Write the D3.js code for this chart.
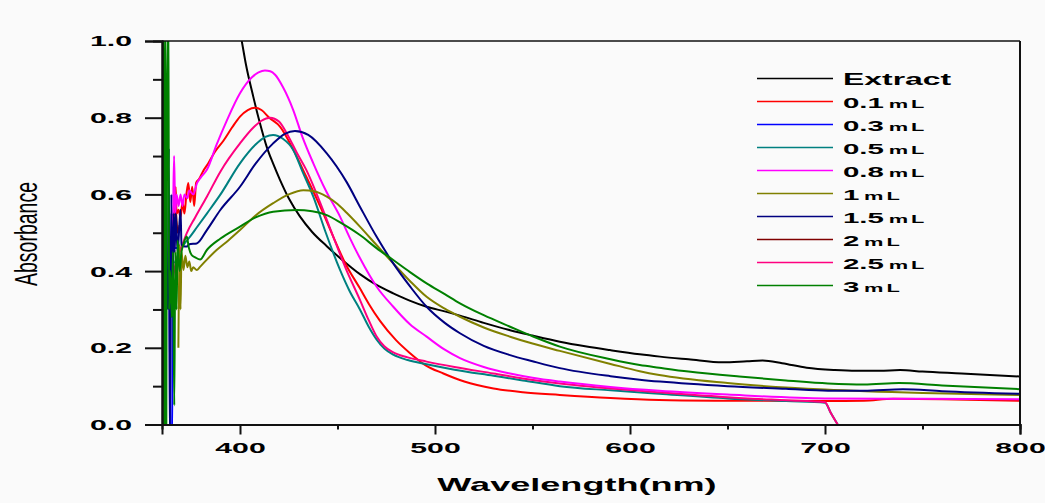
<!DOCTYPE html>
<html>
<head>
<meta charset="utf-8">
<script src="https://cdn.jsdelivr.net/npm/d3@7"></script>
<style>
  html, body { margin: 0; padding: 0; background: #fafafa; }
  svg { display: block; }
  text { font-family: "Liberation Sans", Arial, sans-serif; fill: #000; }
</style>
</head>
<body>
<svg id="chart" width="1045" height="503"></svg>
<script>
// ---------------- DATA ----------------
const seriesNames = ["Extract", "0.1", "0.3", "0.5", "0.8", "1", "1.5", "2", "2.5", "3"];
const seriesColors = ["#000000", "#ff0000", "#0000ff", "#008080", "#ff00ff", "#808000", "#000080", "#800000", "#ff0080", "#008000"];

const xMajorTicks = [400, 500, 600, 700, 800];
const xMinorTicks = [450, 550, 650, 750];
const yMajorTicks = [0.0, 0.2, 0.4, 0.6, 0.8, 1.0];
const yMinorTicks = [0.1, 0.3, 0.5, 0.7, 0.9];

const extract = [[398,1.08],[400.9,1.0],[403,0.94],[406.8,0.855],[410,0.79],[413.7,0.724],[417,0.68],[420.5,0.638],[425,0.59],[430.8,0.542],[437,0.502],[444.5,0.465],[452,0.431],[461.5,0.392],[470,0.364],[478.6,0.342],[487,0.323],[495.7,0.307],[505,0.295],[512.8,0.284],[525,0.265],[538.5,0.246],[550,0.232],[564,0.216],[577,0.204],[589.7,0.194],[605,0.183],[615.4,0.177],[630,0.17],[647.7,0.162],[660,0.165],[668,0.167],[678,0.16],[690.6,0.148],[705,0.142],[716,0.14],[728,0.14],[738.5,0.142],[750,0.138],[770,0.133],[800,0.125]];

const ml01 = [[365,0.4],[365.7,0.55],[366.3,0.45],[367,0.62],[367.5,0.55],[368.5,0.56],[369.5,0.54],[370.5,0.58],[371.5,0.55],[372.5,0.6],[373.5,0.63],[374.5,0.58],[375.5,0.62],[376.5,0.57],[377.5,0.63],[379,0.64],[381,0.66],[383.6,0.68],[387,0.71],[391.5,0.74],[396,0.775],[400,0.803],[404,0.82],[407.7,0.826],[411,0.82],[415,0.8],[420.5,0.777],[427,0.72],[434,0.646],[441,0.57],[447.8,0.49],[454,0.42],[461.5,0.355],[466,0.315],[471.8,0.27],[480,0.22],[487.2,0.186],[495,0.155],[504.3,0.133],[515,0.112],[530,0.094],[545,0.084],[564,0.077],[590,0.069],[615,0.064],[650,0.062],[700,0.061],[720,0.062],[735,0.067],[760,0.066],[800,0.062]];

const ml03 = [[363.8,0.55],[364.3,-0.05],[365.2,-0.05],[365.6,0.5],[366.5,0.46],[368,0.46]];

const ml05 = [[366.5,0.42],[368,0.44],[370,0.46],[372,0.475],[374.4,0.49],[378,0.515],[383,0.55],[390,0.6],[400,0.681],[408,0.73],[413,0.75],[417,0.755],[422,0.745],[427.3,0.716],[432,0.66],[437.6,0.594],[444,0.5],[451.3,0.403],[456,0.35],[461.5,0.3],[466,0.255],[470,0.222],[474,0.198],[478.6,0.182],[486,0.168],[495.7,0.157],[510,0.143],[530,0.127],[545,0.115],[564,0.1],[590,0.089],[615,0.08],[650,0.068],[680,0.061],[700,0.057],[703,0.03],[706.5,0.0]];

const ml08 = [[365.5,0.4],[366.2,0.7],[366.8,0.55],[367.5,0.6],[368.5,0.57],[369.5,0.6],[370.5,0.57],[371.5,0.6],[373,0.59],[374,0.61],[376,0.6],[378,0.63],[380,0.645],[383,0.664],[388,0.73],[393,0.79],[400,0.864],[406,0.905],[409.5,0.918],[412.8,0.923],[415.5,0.921],[418,0.912],[422,0.88],[427.3,0.82],[432,0.75],[437.6,0.681],[444,0.61],[451.3,0.542],[456,0.49],[461.5,0.434],[470,0.36],[478.6,0.307],[487,0.262],[495.7,0.229],[505,0.195],[512.8,0.173],[525,0.15],[538.5,0.133],[550,0.122],[564,0.112],[590,0.098],[615,0.088],[650,0.078],[700,0.068],[750,0.067],[800,0.066]];

const ml1 = [[368.4,0.2],[369,0.47],[369.5,0.3],[370,0.45],[371,0.403],[372,0.44],[373,0.41],[374,0.425],[375,0.4],[376,0.41],[377.8,0.403],[379.5,0.411],[383,0.43],[388,0.455],[394,0.48],[400,0.507],[408,0.545],[417,0.577],[425,0.6],[432.5,0.611],[438,0.608],[444.5,0.594],[450,0.575],[454.7,0.552],[461.5,0.516],[470,0.468],[478.6,0.42],[487,0.375],[495.7,0.333],[505,0.302],[512.8,0.281],[525,0.253],[538.5,0.229],[550,0.211],[564,0.192],[590,0.158],[605,0.139],[615,0.129],[650,0.108],[700,0.091],[750,0.082],[800,0.077]];

const ml15 = [[363,0.3],[363.5,0.72],[364,-0.05],[364.8,0.6],[365.3,0.28],[366,0.55],[366.5,0.45],[367,0.55],[368,0.45],[369.5,0.56],[370,0.47],[371,0.465],[372.7,0.464],[374,0.47],[377.8,0.472],[383,0.507],[390,0.56],[400,0.62],[408,0.68],[417,0.733],[423,0.758],[428.2,0.765],[435,0.755],[444.5,0.707],[454.7,0.632],[461.5,0.568],[470,0.49],[478.6,0.42],[487.2,0.36],[495.7,0.307],[505,0.265],[512.8,0.238],[525,0.205],[538.5,0.181],[550,0.165],[564,0.147],[590,0.126],[605,0.117],[615.4,0.112],[650,0.1],[680,0.093],[701.5,0.088],[720,0.088],[740,0.092],[760,0.087],[800,0.08]];

const ml2 = [[365,0.42],[366,0.5],[367,0.56],[368,0.5],[369,0.52]];

const ml25 = [[364,0.35],[365.5,0.38],[367,0.42],[369,0.45],[370.5,0.47],[372.7,0.499],[377,0.54],[383,0.594],[390,0.66],[400,0.733],[407,0.775],[411,0.792],[415.4,0.8],[420,0.79],[424,0.759],[429,0.71],[434,0.664],[441,0.58],[447.8,0.49],[454,0.41],[461.5,0.325],[466,0.272],[470,0.23],[474,0.204],[478.6,0.188],[486,0.175],[495.7,0.164],[510,0.15],[530,0.133],[545,0.12],[564,0.107],[590,0.094],[615,0.084],[650,0.071],[680,0.063],[700,0.058],[703,0.03],[706.5,0.0]];

const ml3 = [[360,1.1],[360.4,-0.05],[360.9,1.1],[361.3,-0.05],[361.8,1.1],[362.2,-0.05],[362.4,0.6],[363.3,1.1],[363.6,0.3],[364.2,0.4],[365,0.28],[365.6,0.45],[366.3,0.05],[366.8,0.45],[367.5,0.3],[368,0.48],[369,0.4],[370,0.45],[371,0.47],[372.7,0.49],[373.8,0.46],[375.2,0.442],[377,0.436],[379.5,0.43],[383,0.455],[390,0.485],[400,0.516],[408,0.54],[417,0.555],[429,0.559],[437,0.556],[444.5,0.546],[452,0.525],[461.5,0.494],[470,0.46],[478.6,0.429],[487,0.398],[495.7,0.368],[505,0.34],[512.8,0.316],[525,0.285],[538.5,0.255],[550,0.23],[564,0.203],[590,0.17],[605,0.155],[615,0.148],[630,0.138],[656,0.125],[680,0.115],[701.5,0.107],[720,0.104],[738,0.108],[760,0.102],[800,0.092]];

const seriesData = [extract, ml01, ml03, ml05, ml08, ml1, ml15, ml2, ml25, ml3];
const drawOrder = [7, 2, 0, 1, 3, 8, 4, 5, 6, 9];

// ---------------- CHART ----------------
const svg = d3.select("#chart");
const L = 162, R = 1020, T = 41, B = 424.5;
const SX = 1.95;

const x = d3.scaleLinear().domain([360, 800]).range([L, R]);
const y = d3.scaleLinear().domain([0, 1]).range([B, T]);

svg.append("rect").attr("width", 1045).attr("height", 503).attr("fill", "#fafafa");

svg.append("defs").append("clipPath").attr("id", "clip")
  .append("rect").attr("x", L).attr("y", T).attr("width", R - L).attr("height", B - T);

const line = d3.line().curve(d3.curveMonotoneX).x(d => x(d[0])).y(d => y(d[1]));
const plot = svg.append("g").attr("clip-path", "url(#clip)");
drawOrder.forEach(i => {
  plot.append("path").datum(seriesData[i])
    .attr("fill", "none").attr("stroke", seriesColors[i])
    .attr("stroke-width", 2).attr("stroke-linejoin", "round")
    .attr("d", line);
});

// frame lines (top, right)
svg.append("line").attr("x1", L).attr("x2", R).attr("y1", T).attr("y2", T)
  .attr("stroke", "#111").attr("stroke-width", 1.6);
svg.append("line").attr("x1", R).attr("x2", R).attr("y1", T).attr("y2", B)
  .attr("stroke", "#111").attr("stroke-width", 2);

// x axis
const gxMinor = svg.append("g").attr("transform", `translate(0,${B})`)
  .call(d3.axisBottom(x).tickValues(xMinorTicks).tickSize(5).tickFormat(""));
const gx = svg.append("g").attr("transform", `translate(0,${B})`)
  .call(d3.axisBottom(x).tickValues(xMajorTicks).tickSize(10).tickPadding(8).tickFormat(d3.format("d")));
[gx, gxMinor].forEach(g => {
  g.select(".domain").attr("stroke", "#111").attr("stroke-width", 2);
  g.selectAll(".tick line").attr("stroke", "#111").attr("stroke-width", 2);
});
gx.selectAll(".tick text")
  .attr("font-size", 15.5).attr("font-weight", "bold")
  .attr("font-family", "'Liberation Sans', Arial, sans-serif")
  .attr("fill", "#000")
  .attr("transform", `scale(${SX},1)`);

// y axis
const gyMinor = svg.append("g").attr("transform", `translate(${L},0)`)
  .call(d3.axisLeft(y).tickValues(yMinorTicks).tickSize(9).tickFormat(""));
const gy = svg.append("g").attr("transform", `translate(${L},0)`)
  .call(d3.axisLeft(y).tickValues(yMajorTicks).tickSize(17).tickFormat(d3.format(".1f")));
[gy, gyMinor].forEach(g => {
  g.select(".domain").attr("stroke", "#111").attr("stroke-width", 2);
  g.selectAll(".tick line").attr("stroke", "#111").attr("stroke-width", 2);
});
gy.selectAll(".tick text")
  .attr("font-size", 15.5).attr("font-weight", "bold")
  .attr("font-family", "'Liberation Sans', Arial, sans-serif")
  .attr("fill", "#000")
  .attr("x", -30 / SX)
  .attr("transform", `scale(${SX},1)`);

// axis titles
svg.append("text")
  .attr("transform", `translate(${(L + R) / 2 - 14},491) scale(1.9,1)`)
  .attr("text-anchor", "middle").attr("font-size", 19).attr("font-weight", "bold")
  .text("Wavelength(nm)");
svg.append("text")
  .attr("transform", `translate(37,234) scale(1.6,1) rotate(-90)`)
  .attr("text-anchor", "middle").attr("font-size", 19.5)
  .text("Absorbance");

// legend
const leg = svg.append("g");
const legY0 = 78.5, legDY = 23.0;
seriesNames.forEach((name, i) => {
  const yy = legY0 + i * legDY;
  leg.append("line").attr("x1", 757).attr("x2", 833).attr("y1", yy).attr("y2", yy)
    .attr("stroke", seriesColors[i]).attr("stroke-width", 1.6);
  const t = leg.append("text")
    .attr("transform", `translate(843,${yy + 6}) scale(1.9,1)`)
    .attr("font-weight", "bold");
  if (i === 0) {
    t.attr("font-size", 16.8).attr("transform", `translate(843,${yy + 6.3}) scale(1.9,1)`).text(name);
  } else {
    t.append("tspan").attr("font-size", 15.5).text(name);
    t.append("tspan").attr("font-size", 11.5).attr("dx", 2.5).attr("letter-spacing", 1.6).text("mL");
  }
});
</script>
</body>
</html>
